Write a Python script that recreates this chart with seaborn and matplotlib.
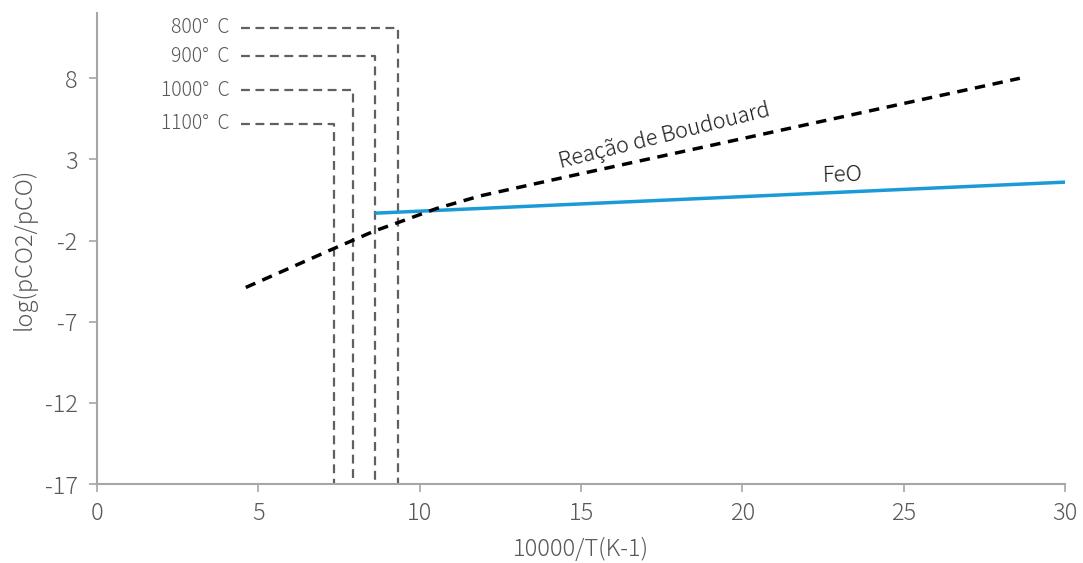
import numpy as np
import pandas as pd
import seaborn as sns
import matplotlib.pyplot as plt

# Data
boudouard_x = [4.61, 7.34, 8.61, 9.33, 10.53, 11.87, 14.35, 17.45, 20.55, 23.02, 26.12, 28.6]
boudouard_y = [-4.89, -2.49, -1.40, -0.89, -0.02, 0.75, 1.84, 3.18, 4.52, 5.59, 6.93, 8.0]
feo_x = [8.65, 30.0]
feo_y = [-0.31, 1.6]

temp_labels = ['800°  C', '900°  C', '1000°  C', '1100°  C']
temp_x = [9.33, 8.61, 7.93, 7.34]      # 10000/T
temp_top = [11.1, 9.35, 7.25, 5.2]     # top of the marker lines
marker_start = 4.45

sns.set_style('white')
plt.rcParams['font.family'] = ['Noto Sans CJK JP', 'DejaVu Sans']
plt.rcParams['axes.unicode_minus'] = False

grey_txt = '#595959'
axis_col = '#a6a6a6'

fig = plt.figure(figsize=(10.83, 5.63), dpi=100)
ax = fig.add_axes([0.0896, 0.1403, 0.8938, 0.836])

# temperature markers
for lab, x, top in zip(temp_labels, temp_x, temp_top):
    ax.plot([marker_start, x, x], [top, top, -17], color='#606060', lw=1.6,
            ls=(0, (4, 2.5)), zorder=2)
    ax.text(marker_start - 0.35, top, lab, ha='right', va='center',
            fontsize=14, color=grey_txt, fontweight='light')

bd = pd.DataFrame({'x': boudouard_x, 'y': boudouard_y})
fe = pd.DataFrame({'x': feo_x, 'y': feo_y})
sns.lineplot(data=fe, x='x', y='y', ax=ax, color='#1a9bd7', lw=2.5, zorder=3)
sns.lineplot(data=bd, x='x', y='y', ax=ax, color='black', lw=2.5,
             ls=(0, (3, 2.2)), zorder=4, sort=False)

ax.text(17.6, 4.45, 'Reação de Boudouard', rotation=14, ha='center', va='center',
        fontsize=15.5, color='#1a1a1a', fontweight='light')
ax.text(23.1, 2.05, 'FeO', rotation=2, ha='center', va='center',
        fontsize=16, color='#1a1a1a', fontweight='light')

ax.set_xlim(0, 30)
ax.set_ylim(-17, 12)
ax.set_xticks([0, 5, 10, 15, 20, 25, 30])
ax.set_yticks([-17, -12, -7, -2, 3, 8])
ax.set_xlabel('10000/T(K-1)', fontsize=17, color=grey_txt, labelpad=8,
              fontweight='light')
ax.set_ylabel('log(pCO2/pCO)', fontsize=17, color=grey_txt, labelpad=6,
              fontweight='light')

for s in ['top', 'right']:
    ax.spines[s].set_visible(False)
for s in ['left', 'bottom']:
    ax.spines[s].set_color(axis_col)
    ax.spines[s].set_linewidth(1.5)
ax.tick_params(axis='both', colors=axis_col, labelcolor=grey_txt, labelsize=17,
               length=6, width=1.2, direction='out', bottom=True, left=True)
ax.tick_params(axis='x', pad=6)
ax.tick_params(axis='y', pad=8)
for t in ax.get_xticklabels() + ax.get_yticklabels():
    t.set_fontweight('light')

fig.savefig('out.png', dpi=100)
